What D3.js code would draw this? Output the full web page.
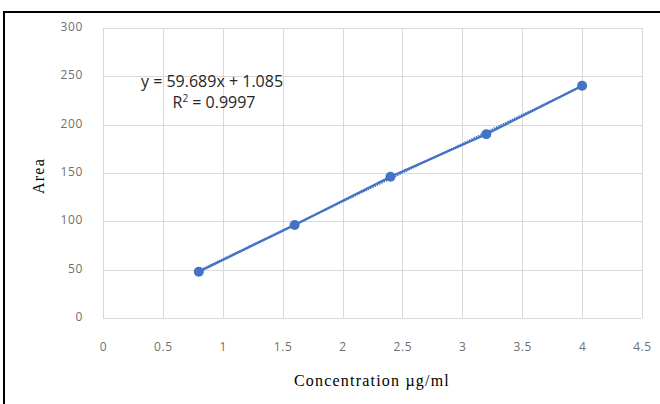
<!DOCTYPE html>
<html>
<head>
<meta charset="utf-8">
<script src="https://cdn.jsdelivr.net/npm/d3@7"></script>
<style>
  html, body { margin: 0; padding: 0; background: #fff; }
  svg { display: block; }
</style>
</head>
<body>
<svg id="chart"></svg>
<script>
var concentration = [0.8, 1.6, 2.4, 3.2, 4.0];
var area = [47.9, 96.2, 146.2, 190.0, 240.3];
var xTicks = [0, 0.5, 1, 1.5, 2, 2.5, 3, 3.5, 4, 4.5];
var yTicks = [0, 50, 100, 150, 200, 250, 300];
var slope = 59.689;
var intercept = 1.085;
var eqText = "y = 59.689x + 1.085";
var r2Label = "0.9997";

(function () {
  var width = 660, height = 404;
  var plot = { left: 103, right: 642, top: 28, bottom: 318 };
  var blue = "#4472c4";

  var svg = d3.select("#chart")
    .attr("width", width)
    .attr("height", height);

  svg.append("rect")
    .attr("width", width).attr("height", height)
    .attr("fill", "#fff");

  // frame: only top and left edges are visible in the crop
  svg.append("line")
    .attr("x1", 4).attr("x2", width).attr("y1", 12).attr("y2", 12)
    .attr("stroke", "#000").attr("stroke-width", 2);
  svg.append("line")
    .attr("x1", 4).attr("x2", 4).attr("y1", 11).attr("y2", height)
    .attr("stroke", "#000").attr("stroke-width", 2);

  var x = d3.scaleLinear().domain([0, 4.5]).range([plot.left, plot.right]);
  var y = d3.scaleLinear().domain([0, 300]).range([plot.bottom, plot.top]);

  // grid
  svg.append("g").selectAll("line").data(xTicks).enter().append("line")
    .attr("x1", function (d) { return Math.round(x(d)) + 0.5; })
    .attr("x2", function (d) { return Math.round(x(d)) + 0.5; })
    .attr("y1", plot.top).attr("y2", plot.bottom)
    .attr("stroke", "#d9d9d9").attr("stroke-width", 1);
  svg.append("g").selectAll("line").data(yTicks).enter().append("line")
    .attr("x1", plot.left).attr("x2", plot.right)
    .attr("y1", function (d) { return Math.round(y(d)) + 0.5; })
    .attr("y2", function (d) { return Math.round(y(d)) + 0.5; })
    .attr("stroke", "#d9d9d9").attr("stroke-width", 1);

  // axes tick labels
  var yAxis = d3.axisLeft(y).tickValues(yTicks).tickSize(0).tickPadding(0);
  var gy = svg.append("g").attr("transform", "translate(" + (plot.left - 20) + ",0)").call(yAxis);
  gy.select(".domain").remove();
  gy.selectAll("text")
    .attr("font-family", "'Open Sans', sans-serif")
    .attr("font-size", 12).attr("letter-spacing", 0.6)
    .attr("fill", "#6f6f6f").attr("dy", "0.2em");

  var xAxis = d3.axisBottom(x).tickValues(xTicks).tickSize(0).tickPadding(0)
    .tickFormat(function (d) { return String(d); });
  var gx = svg.append("g").attr("transform", "translate(0," + (plot.bottom + 24) + ")").call(xAxis);
  gx.select(".domain").remove();
  gx.selectAll("text")
    .attr("font-family", "'Open Sans', sans-serif")
    .attr("font-size", 12).attr("letter-spacing", 0.6)
    .attr("fill", "#6f6f6f");

  // series line
  var pts = concentration.map(function (c, i) { return [c, area[i]]; });
  var line = d3.line()
    .x(function (d) { return x(d[0]); })
    .y(function (d) { return y(d[1]); });
  svg.append("path").datum(pts)
    .attr("d", line).attr("fill", "none")
    .attr("stroke", blue).attr("stroke-width", 2.25);

  // linear trendline (dotted, overlaid)
  var xs = d3.extent(concentration);
  svg.append("path")
    .datum(xs.map(function (c) { return [c, slope * c + intercept]; }))
    .attr("d", line).attr("fill", "none")
    .attr("stroke", blue).attr("stroke-width", 2)
    .attr("stroke-dasharray", "1.5,1");

  svg.append("g").selectAll("circle").data(pts).enter().append("circle")
    .attr("cx", function (d) { return x(d[0]); })
    .attr("cy", function (d) { return y(d[1]); })
    .attr("r", 5).attr("fill", blue);

  // trendline equation
  var eq = svg.append("g")
    .attr("font-family", "'Open Sans', sans-serif")
    .attr("font-size", 16).attr("fill", "#262626")
    .attr("text-anchor", "middle");
  eq.append("text").attr("x", 212).attr("y", 87).text(eqText);
  var r2 = eq.append("text").attr("x", 214).attr("y", 108);
  r2.append("tspan").text("R");
  r2.append("tspan").attr("font-size", 10).attr("dy", -6).text("2");
  r2.append("tspan").attr("dy", 6).text(" = " + r2Label);

  // axis titles
  svg.append("text")
    .attr("x", 372).attr("y", 386)
    .attr("text-anchor", "middle")
    .attr("font-family", "'Liberation Serif', serif")
    .attr("font-size", 16).attr("letter-spacing", 1.2).attr("fill", "#000")
    .text("Concentration µg/ml");
  svg.append("text")
    .attr("transform", "translate(44,176) rotate(-90)")
    .attr("text-anchor", "middle")
    .attr("font-family", "'Liberation Serif', serif")
    .attr("font-size", 16).attr("letter-spacing", 1.2).attr("fill", "#000")
    .text("Area");
}());
</script>
</body>
</html>
